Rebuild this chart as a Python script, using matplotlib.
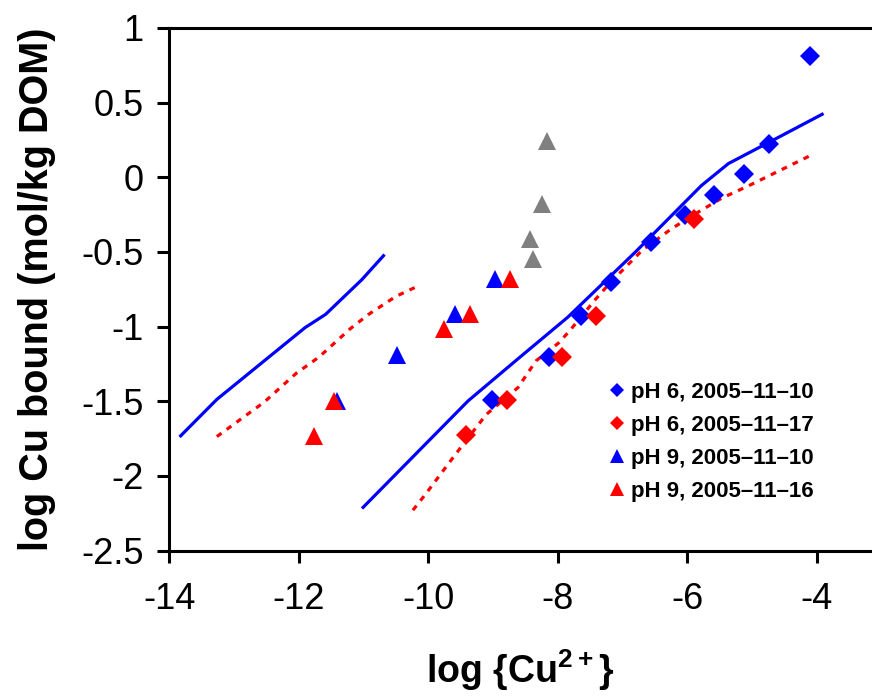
import matplotlib
matplotlib.use("Agg")
import matplotlib.pyplot as plt
from matplotlib.lines import Line2D

plt.rcParams['font.family'] = ['Liberation Sans', 'DejaVu Sans']
plt.rcParams['mathtext.fontset'] = 'custom'
plt.rcParams['mathtext.rm'] = 'Liberation Sans'
plt.rcParams['mathtext.bf'] = 'Liberation Sans:bold'

# ---- data ----
ph6_1110_x = [-4.10, -4.73, -5.13, -5.59, -6.04, -6.56, -7.18, -7.64, -8.13, -9.01]
ph6_1110_y = [0.81, 0.226, 0.02, -0.116, -0.255, -0.43, -0.70, -0.93, -1.205, -1.49]

ph6_1117_x = [-5.89, -7.41, -7.94, -8.79, -9.41]
ph6_1117_y = [-0.277, -0.93, -1.205, -1.49, -1.724]

ph9_1110_x = [-8.965, -9.594, -10.48, -11.41]
ph9_1110_y = [-0.683, -0.918, -1.188, -1.50]

ph9_1116_x = [-8.74, -9.357, -9.76, -11.455, -11.76]
ph9_1116_y = [-0.683, -0.918, -1.013, -1.50, -1.73]

gray_x = [-8.16, -8.25, -8.43, -8.38]
gray_y = [0.243, -0.18, -0.415, -0.547]

model6_blue_x = [-11.007, -9.385, -8.6, -7.846, -6.8, -5.783, -5.364, -4.734, -3.916]
model6_blue_y = [-2.21, -1.497, -1.21, -0.937, -0.50, -0.056, 0.092, 0.235, 0.422]

model6_red_x = [-10.238, -10.05, -9.594, -9.105, -8.615, -8.336, -7.986, -7.811,
                -7.427, -7.182, -6.692, -6.238, -5.888, -5.469, -5.049, -4.035]
model6_red_y = [-2.229, -2.126, -1.863, -1.588, -1.408, -1.229, -1.109, -1.025,
                -0.822, -0.702, -0.487, -0.343, -0.248, -0.14, -0.056, 0.159]

model9_blue_x = [-13.825, -13.266, -11.902, -11.587, -11.028, -10.692]
model9_blue_y = [-1.731, -1.487, -1.006, -0.918, -0.686, -0.525]

model9_red_x = [-13.266, -12.531, -12.042, -11.692, -11.203, -10.923, -10.503, -10.154]
model9_red_y = [-1.736, -1.504, -1.313, -1.205, -1.013, -0.918, -0.798, -0.727]

labels = ['pH 6, 2005\u201311\u201310', 'pH 6, 2005\u201311\u201317',
          'pH 9, 2005\u201311\u201310', 'pH 9, 2005\u201311\u201316']
xticks = [-14, -12, -10, -8, -6, -4]
yticks = [-2.5, -2, -1.5, -1, -0.5, 0, 0.5, 1]
ytick_labels = ['-2.5', '-2', '-1.5', '-1', '-0.5', '0', '0.5', '1']

BLUE = '#0000ff'
RED = '#ff0000'
GRAY = '#808080'

fig = plt.figure(figsize=(8.72, 6.99), dpi=100)
ax = fig.add_axes([0.1942, 0.2122, 1 - 0.1942, 0.96 - 0.2122])

lw = 2.3
dot = (0, (1.8, 2.0))
ax.plot(model9_blue_x, model9_blue_y, color=BLUE, lw=lw, zorder=2)
ax.plot(model9_red_x, model9_red_y, color=RED, lw=lw, ls=dot, zorder=2)
ax.plot(model6_blue_x, model6_blue_y, color=BLUE, lw=lw, zorder=2)
ax.plot(model6_red_x, model6_red_y, color=RED, lw=lw, ls=dot, zorder=2)

dms = 10.5
tms = 13.5
ax.plot(gray_x, gray_y, ls='none', marker='^', ms=tms, color=GRAY, mew=0, zorder=3)
ax.plot(ph9_1110_x, ph9_1110_y, ls='none', marker='^', ms=tms, color=BLUE, mew=0, zorder=3)
ax.plot(ph9_1116_x, ph9_1116_y, ls='none', marker='^', ms=tms, color=RED, mew=0, zorder=4)
ax.plot(ph6_1110_x, ph6_1110_y, ls='none', marker='D', ms=dms, color=BLUE, mew=0, zorder=3)
ax.plot(ph6_1117_x, ph6_1117_y, ls='none', marker='D', ms=dms, color=RED, mew=0, zorder=4)

ax.set_xlim(-14, -3.146)
ax.set_ylim(-2.5, 1)
ax.set_xticks(xticks)
ax.set_xticklabels([str(t) for t in xticks])
ax.set_yticks(yticks)
ax.set_yticklabels(ytick_labels)

for s in ['left', 'bottom', 'top']:
    ax.spines[s].set_linewidth(2.2)
    ax.spines[s].set_color('black')
ax.spines['right'].set_visible(False)

ax.tick_params(axis='both', direction='out', length=8.5, width=2.2, labelsize=26, colors='black')
ax.tick_params(axis='y', pad=10)
ax.tick_params(axis='x', pad=14)

ax.set_ylabel('log Cu bound (mol/kg DOM)', fontsize=28.5, fontweight='bold', labelpad=18)
ax.set_xlabel(r'log {Cu$^{\mathbf{2+}}$}', fontsize=27, fontweight='bold', labelpad=22)

handles = [
    Line2D([], [], ls='none', marker='D', ms=7, color=BLUE, mew=0),
    Line2D([], [], ls='none', marker='D', ms=7, color=RED, mew=0),
    Line2D([], [], ls='none', marker='^', ms=10, color=BLUE, mew=0),
    Line2D([], [], ls='none', marker='^', ms=10, color=RED, mew=0),
]
leg = ax.legend(handles, labels, loc='upper left', bbox_to_anchor=(0.685, 0.47),
                bbox_transform=fig.transFigure, frameon=False,
                prop={'family': ['Liberation Sans Narrow', 'Liberation Sans', 'DejaVu Sans'],
                      'weight': 'bold', 'size': 16},
                handlelength=0.8, handletextpad=0.2, labelspacing=0.55, borderpad=0)

fig.savefig('out.png', dpi=100)
